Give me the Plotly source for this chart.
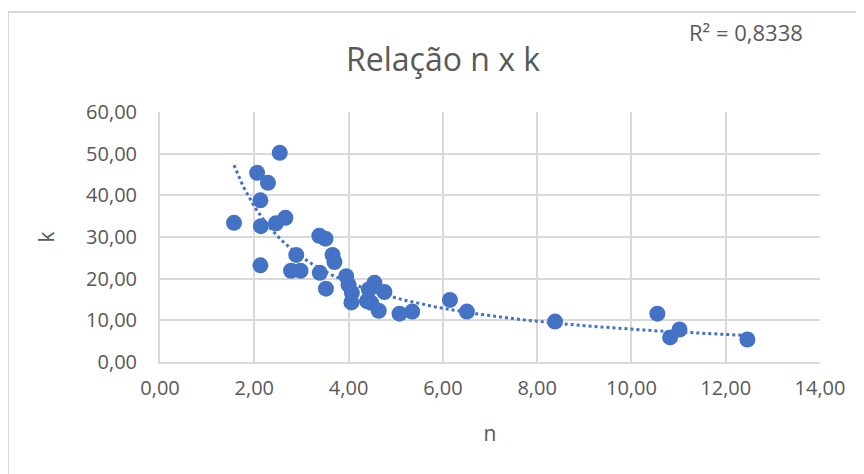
import numpy as np
import plotly.graph_objects as go

# Data
n_vals = [1.57, 2.06, 2.13, 2.14, 2.13, 2.29, 2.46, 2.54, 2.66, 2.78, 2.89, 2.98,
          3.38, 3.51, 3.39, 3.52, 3.66, 3.70, 3.95, 4.00, 4.07, 4.06, 4.39, 4.43,
          4.55, 4.48, 4.76, 4.64, 5.08, 5.35, 6.15, 6.51, 8.38, 10.55, 10.82,
          11.02, 12.46]
k_vals = [33.4, 45.4, 38.8, 32.6, 23.2, 43.0, 33.3, 50.2, 34.6, 21.9, 25.7, 21.9,
          30.3, 29.6, 21.4, 17.6, 25.7, 24.0, 20.6, 18.5, 16.6, 14.3, 14.6, 17.4,
          19.0, 14.2, 16.8, 12.3, 11.6, 12.1, 14.9, 12.1, 9.7, 11.6, 5.9,
          7.8, 5.4]
x_ticks = [0, 2, 4, 6, 8, 10, 12, 14]
y_ticks = [0, 10, 20, 30, 40, 50, 60]
title_text = "Relação n x k"
r2_text = "R² = 0,8338"

# Power trendline (as Excel): ln k = ln a + b ln n
b, ln_a = np.polyfit(np.log(n_vals), np.log(k_vals), 1)
n_fit = np.linspace(min(n_vals), max(n_vals), 200)
k_fit = np.exp(ln_a) * n_fit ** b

BLUE = "#4472C4"
GRAY = "#595959"
GRID = "#D9D9D9"
FONT = "Open Sans"

fig = go.Figure()
fig.add_trace(go.Scatter(x=n_fit, y=k_fit, mode="lines",
                         line=dict(color=BLUE, width=3, dash="dot"),
                         hoverinfo="skip", showlegend=False))
fig.add_trace(go.Scatter(x=n_vals, y=k_vals, mode="markers",
                         marker=dict(color=BLUE, size=16, line=dict(width=0)),
                         showlegend=False))

# page body has an 8px default margin, so figure coords = screen coords - 8
OFF = 8
W, H = 864 - OFF, 474 - OFF
L, T = 160 - OFF, 112 - OFF
R = W - (820 - OFF)
B = H - (362 - OFF)
pw, ph = W - L - R, H - T - B


def px_x(sx):
    return (sx - OFF - L) / pw


def px_y(sy):
    return 1 - (sy - OFF - T) / ph


fig.update_layout(
    width=W, height=H,
    margin=dict(l=L, r=R, t=T, b=B, autoexpand=False),
    paper_bgcolor="white", plot_bgcolor="white",
    separators=",.",
    font=dict(family=FONT, color=GRAY, size=20),
    title=dict(text=title_text, x=px_x(443), xref="paper", xanchor="center",
               y=1 - (60 - OFF) / H, yanchor="middle",
               font=dict(family=FONT, size=32, color=GRAY)),
    xaxis=dict(range=[0, 14], tickvals=x_ticks, tickformat=".2f",
               showgrid=True, gridcolor=GRID, gridwidth=2,
               showline=True, linecolor=GRID, linewidth=2,
               zeroline=False, ticks="", ticklabelstandoff=7, automargin=False,
               title=dict(text="n", standoff=26, font=dict(size=21, color=GRAY))),
    yaxis=dict(range=[0, 60], tickvals=y_ticks, tickformat=".2f",
               showgrid=True, gridcolor=GRID, gridwidth=2,
               showline=True, linecolor=GRID, linewidth=2,
               zeroline=False, ticks="", ticklabelstandoff=17, automargin=False,
               title=dict(text="k", standoff=26, font=dict(size=21, color=GRAY))),
    shapes=[dict(type="rect", xref="paper", yref="paper",
                 x0=px_x(8), x1=px_x(880),
                 y0=px_y(490), y1=px_y(12),
                 line=dict(color=GRID, width=2), fillcolor="rgba(0,0,0,0)",
                 layer="below")],
    annotations=[dict(text=r2_text, xref="paper", yref="paper",
                      x=px_x(746), y=px_y(32),
                      xanchor="center", yanchor="middle", showarrow=False,
                      font=dict(family=FONT, size=22, color=GRAY))],
)

fig.write_html("out.html")
